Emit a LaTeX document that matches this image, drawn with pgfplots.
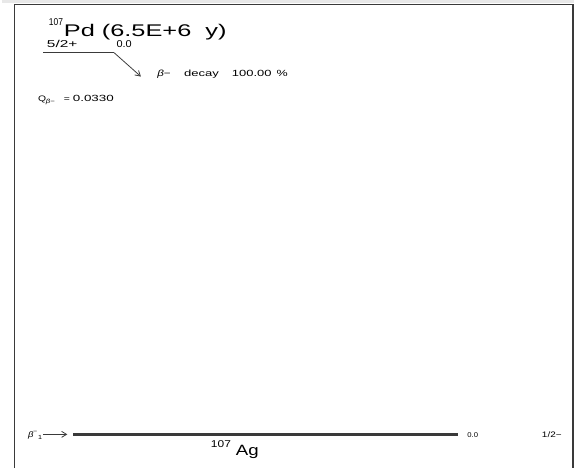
\documentclass[border=0pt]{standalone}
\usepackage{pgfplots}
\pgfplotsset{compat=1.18}
\usetikzlibrary{arrows.meta}
\usepackage{fontspec}
\setmainfont{Liberation Sans}
\definecolor{ink}{HTML}{3A3A3A}
\definecolor{txt}{HTML}{5A5A5A}
\definecolor{strip}{HTML}{E8E8E8}
\newcommand{\T}[3]{\fontsize{#1bp}{#1bp}\selectfont\scalebox{#2}[1]{#3}}
\begin{document}
\begin{tikzpicture}
\begin{axis}[scale only axis, width=576bp, height=471bp,
  xmin=0, xmax=576, ymin=0, ymax=471, y dir=reverse,
  ticks=none, axis line style={draw=none}, clip=false,
  every node/.style={inner sep=0pt, outer sep=0pt, text=txt}]
% frame
\addplot[strip, line width=3.5bp] coordinates {(0,1.75) (576,1.75)};
\addplot[ink, line width=1.6bp] coordinates {(13,471) (13,4.5) (575,4.5) (575,471)};
% parent level and decay arrow
\addplot[ink, line width=0.8bp] coordinates {(42,53) (113,53)};
\addplot[ink, line width=0.8bp, -{Straight Barb[length=5bp,width=6bp]}] coordinates {(113,53) (140,77)};
% daughter level
\addplot[ink, line width=3bp] coordinates {(72,437.5) (459,437.5)};
\addplot[ink, line width=0.8bp, -{Straight Barb[length=5bp,width=6bp]}] coordinates {(42,437) (66,437)};
% texts
\node[anchor=base west] at (axis cs:44,26) {\T{10}{0.85}{107}};
\node[anchor=base west] at (axis cs:59,37) {\T{17}{1.5}{Pd (6.5E+6\ \ y)}};
\node[anchor=base west] at (axis cs:42,48) {\T{10}{1.55}{5/2+}};
\node[anchor=base west] at (axis cs:112,48) {\T{10}{1.1}{0.0}};
\node[anchor=base west] at (axis cs:153,77) {\T{9}{1.3}{\textit{β}−}};
\node[anchor=base west] at (axis cs:180,77) {\T{9}{1.46}{decay}};
\node[anchor=base west] at (axis cs:228,77) {\T{9}{1.45}{100.00}};
\node[anchor=base west] at (axis cs:273,77) {\T{9}{1.4}{\%}};
\node[anchor=base west] at (axis cs:33,102) {\T{8}{1.3}{Q}};
\node[anchor=base west] at (axis cs:41,104) {\T{6}{1.3}{\textit{β}−}};
\node[anchor=base west] at (axis cs:59,102) {\T{8}{1.3}{=}};
\node[anchor=base west] at (axis cs:68,102) {\T{9}{1.5}{0.0330}};
\node[anchor=base west] at (axis cs:23,440) {\T{8}{1.2}{\textit{β}}};
\node[anchor=base west] at (axis cs:28,436) {\T{6}{1.2}{−}};
\node[anchor=base west] at (axis cs:33,442) {\T{6}{1.2}{1}};
\node[anchor=base west] at (axis cs:465,440) {\T{7}{1.1}{0.0}};
\node[anchor=base west] at (axis cs:540,440) {\T{8}{1.25}{1/2−}};
\node[anchor=base west] at (axis cs:207,450) {\T{10}{1.2}{107}};
\node[anchor=base west] at (axis cs:232,458) {\T{15}{1.25}{Ag}};
\end{axis}
\end{tikzpicture}
\end{document}
